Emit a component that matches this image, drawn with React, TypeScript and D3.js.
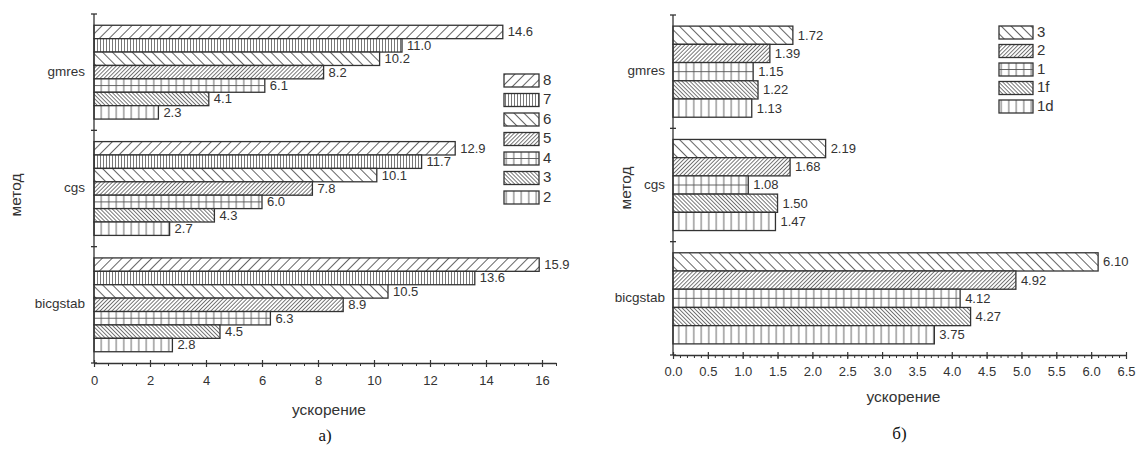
import { useEffect, useRef } from "react";
import * as d3 from "d3";

const methods = ["gmres", "cgs", "bicgstab"];

// panel a
const seriesA = ["8", "7", "6", "5", "4", "3", "2"];
const gmresA = [14.6, 11.0, 10.2, 8.2, 6.1, 4.1, 2.3];
const cgsA = [12.9, 11.7, 10.1, 7.8, 6.0, 4.3, 2.7];
const bicgstabA = [15.9, 13.6, 10.5, 8.9, 6.3, 4.5, 2.8];
const ticksA = [0, 2, 4, 6, 8, 10, 12, 14, 16];

// panel b
const seriesB = ["3", "2", "1", "1f", "1d"];
const gmresB = [1.72, 1.39, 1.15, 1.22, 1.13];
const cgsB = [2.19, 1.68, 1.08, 1.5, 1.47];
const bicgstabB = [6.1, 4.92, 4.12, 4.27, 3.75];
const ticksB = [0, 0.5, 1, 1.5, 2, 2.5, 3, 3.5, 4, 4.5, 5, 5.5, 6, 6.5];

const patternA: Record<string, string> = {
    "8": "diagSparse", "7": "vertDense", "6": "backSparse", "5": "diagDense",
    "4": "grid", "3": "backDense", "2": "vertSparse"
};
const patternB: Record<string, string> = {
    "3": "backSparse", "2": "diagDense", "1": "grid", "1f": "backDense", "1d": "vertSparse"
};

const FONT = "'Liberation Sans', Arial, sans-serif";
const INK = "#333";

const App = () => {
    const ref = useRef<SVGSVGElement>(null);

    useEffect(() => {
        const svg = d3.select(ref.current);
        svg.selectAll("*").remove();
        const defs = svg.append("defs");

        const hatch = (id: string, angle: number, gap: number, w: number) => {
            const p = defs.append("pattern")
                .attr("id", id)
                .attr("patternUnits", "userSpaceOnUse")
                .attr("width", gap)
                .attr("height", gap)
                .attr("patternTransform", `rotate(${angle})`);
            p.append("rect").attr("width", gap).attr("height", gap).attr("fill", "#fff");
            p.append("line")
                .attr("x1", gap / 2).attr("x2", gap / 2)
                .attr("y1", 0).attr("y2", gap)
                .attr("stroke", "#555")
                .attr("stroke-width", w);
        };
        hatch("diagSparse", 45, 7, 0.9);
        hatch("diagDense", 45, 2.8, 0.8);
        hatch("backSparse", -45, 7, 0.9);
        hatch("backDense", -45, 2.8, 0.8);
        hatch("vertDense", 0, 3, 0.8);
        hatch("vertSparse", 0, 7.5, 0.9);
        hatch("grid", 0, 7.5, 0.9);

        const panel = (cfg: {
            x: d3.ScaleLinear<number, number>,
            y: d3.ScaleBand<string>,
            inner: d3.ScaleBand<string>,
            series: string[],
            values: number[][],
            pats: Record<string, string>,
            major: number[],
            minorStep: number,
            fmt: (v: number) => string,
            labelFmt: (v: number) => string,
            catRight: number,
            yTitle: number[],
            xTitleY: number,
            tickLabelY: number,
            caption: string,
            captionY: number,
            legendX: number,
            legendY: number,
            legendStep: number,
            legendW: number,
            labelSize: number
        }) => {
            const { x, y, inner } = cfg;
            const g = svg.append("g");
            const [x0, x1] = x.range();
            const [y0, y1] = y.range();

            methods.forEach((m, mi) => {
                const mg = g.append("g").attr("transform", `translate(0,${y(m)})`);
                cfg.series.forEach((s, si) => {
                    const v = cfg.values[mi][si];
                    const by = inner(s)!;
                    const bh = inner.bandwidth();
                    mg.append("rect")
                        .attr("x", x(0))
                        .attr("y", by)
                        .attr("width", x(v) - x(0))
                        .attr("height", bh)
                        .attr("fill", `url(#${cfg.pats[s]})`)
                        .attr("stroke", INK)
                        .attr("stroke-width", 1.3);
                    if (cfg.pats[s] === "grid") {
                        mg.append("line")
                            .attr("x1", x(0)).attr("x2", x(v))
                            .attr("y1", by + bh / 2).attr("y2", by + bh / 2)
                            .attr("stroke", "#555").attr("stroke-width", 0.9);
                    }
                    mg.append("text")
                        .attr("x", x(v) + 5)
                        .attr("y", by + bh / 2 + 1)
                        .attr("dominant-baseline", "middle")
                        .style("font-family", FONT)
                        .style("font-size", `${cfg.labelSize}px`)
                        .attr("fill", INK)
                        .text(cfg.labelFmt(v));
                });
                g.append("text")
                    .attr("x", cfg.catRight)
                    .attr("y", y(m)! + y.bandwidth() / 2)
                    .attr("text-anchor", "end")
                    .attr("dominant-baseline", "middle")
                    .style("font-family", FONT)
                    .style("font-size", "13.5px")
                    .attr("fill", INK)
                    .text(m);
            });

            // left axis
            g.append("line")
                .attr("x1", x0).attr("x2", x0).attr("y1", y0).attr("y2", y1)
                .attr("stroke", INK).attr("stroke-width", 1.3);
            const bounds = [...methods.map((m) => y(m)!), y1];
            bounds.forEach((b) => {
                g.append("line")
                    .attr("x1", x0 - 3).attr("x2", x0 + 3).attr("y1", b).attr("y2", b)
                    .attr("stroke", INK).attr("stroke-width", 1.3);
            });

            // bottom axis
            const minor = d3.range(0, x.domain()[1] + 1e-9, cfg.minorStep);
            g.append("g")
                .attr("transform", `translate(0,${y1})`)
                .call(d3.axisBottom(x).tickValues(minor).tickSize(3).tickSizeOuter(0).tickFormat(() => ""))
                .call((a) => a.select(".domain").attr("stroke", INK).attr("stroke-width", 1.3))
                .call((a) => a.selectAll(".tick line").attr("stroke", INK));
            const ax = g.append("g")
                .attr("transform", `translate(0,${y1})`)
                .call(d3.axisBottom(x).tickValues(cfg.major).tickSize(4).tickSizeOuter(0).tickPadding(0).tickFormat((d) => cfg.fmt(+d)));
            ax.select(".domain").remove();
            ax.selectAll(".tick line").attr("y1", -3).attr("stroke", INK).attr("stroke-width", 1.2);
            ax.selectAll(".tick text")
                .attr("y", cfg.tickLabelY - y1)
                .attr("dy", null)
                .attr("dominant-baseline", "middle")
                .attr("fill", INK)
                .style("font-family", FONT)
                .style("font-size", "13px");

            g.append("text")
                .attr("x", (x0 + x1) / 2 + 4)
                .attr("y", cfg.xTitleY)
                .attr("text-anchor", "middle")
                .attr("dominant-baseline", "middle")
                .style("font-family", FONT)
                .style("font-size", "15.5px")
                .attr("fill", INK)
                .text("ускорение");
            g.append("text")
                .attr("transform", `translate(${cfg.yTitle[0]},${cfg.yTitle[1]}) rotate(-90)`)
                .attr("text-anchor", "middle")
                .attr("dominant-baseline", "middle")
                .style("font-family", FONT)
                .style("font-size", "15.5px")
                .attr("fill", INK)
                .text("метод");
            g.append("text")
                .attr("x", (x0 + x1) / 2)
                .attr("y", cfg.captionY)
                .attr("text-anchor", "middle")
                .attr("dominant-baseline", "middle")
                .style("font-family", "'Liberation Serif', 'Times New Roman', serif")
                .style("font-size", "17px")
                .attr("fill", "#111")
                .text(cfg.caption);

            // legend
            cfg.series.forEach((s, i) => {
                const ly = cfg.legendY + i * cfg.legendStep;
                g.append("rect")
                    .attr("x", cfg.legendX).attr("y", ly)
                    .attr("width", cfg.legendW).attr("height", 13)
                    .attr("fill", `url(#${cfg.pats[s]})`)
                    .attr("stroke", INK).attr("stroke-width", 1.3);
                if (cfg.pats[s] === "grid") {
                    g.append("line")
                        .attr("x1", cfg.legendX).attr("x2", cfg.legendX + cfg.legendW)
                        .attr("y1", ly + 6.5).attr("y2", ly + 6.5)
                        .attr("stroke", "#555").attr("stroke-width", 0.9);
                }
                g.append("text")
                    .attr("x", cfg.legendX + cfg.legendW + 4)
                    .attr("y", ly + 7)
                    .attr("dominant-baseline", "middle")
                    .style("font-family", FONT)
                    .style("font-size", "15px")
                    .attr("fill", INK)
                    .text(s);
            });
        };

        const yA = d3.scaleBand().domain(methods).range([14, 363]);
        panel({
            x: d3.scaleLinear().domain([0, 16.5]).range([94, 556]),
            y: yA,
            inner: d3.scaleBand().domain(seriesA).range([0, yA.bandwidth()]).paddingOuter(0.84),
            series: seriesA,
            values: [gmresA, cgsA, bicgstabA],
            pats: patternA,
            major: ticksA,
            minorStep: 0.5,
            fmt: (v) => d3.format("d")(v),
            labelFmt: d3.format(".1f"),
            catRight: 85,
            yTitle: [17, 195],
            xTitleY: 411,
            tickLabelY: 382,
            caption: "а)",
            captionY: 437,
            legendX: 504,
            legendY: 74,
            legendStep: 19.5,
            legendW: 35,
            labelSize: 13
        });

        const yB = d3.scaleBand().domain(methods).range([15, 355]);
        panel({
            x: d3.scaleLinear().domain([0, 6.5]).range([673, 1126]),
            y: yB,
            inner: d3.scaleBand().domain(seriesB).range([0, yB.bandwidth()]).paddingOuter(0.61),
            series: seriesB,
            values: [gmresB, cgsB, bicgstabB],
            pats: patternB,
            major: ticksB,
            minorStep: 0.1,
            fmt: d3.format(".1f"),
            labelFmt: d3.format(".2f"),
            catRight: 665,
            yTitle: [627, 188],
            xTitleY: 398,
            tickLabelY: 373,
            caption: "б)",
            captionY: 435,
            legendX: 999,
            legendY: 26,
            legendStep: 18.5,
            legendW: 34,
            labelSize: 13
        });
    });

    return (
        <div style={{ position: "absolute", left: 0, top: 0 }}>
            <svg ref={ref} width={1136} height={452} style={{ display: "block", background: "#fff" }} />
        </div>
    );
};

export default App;
